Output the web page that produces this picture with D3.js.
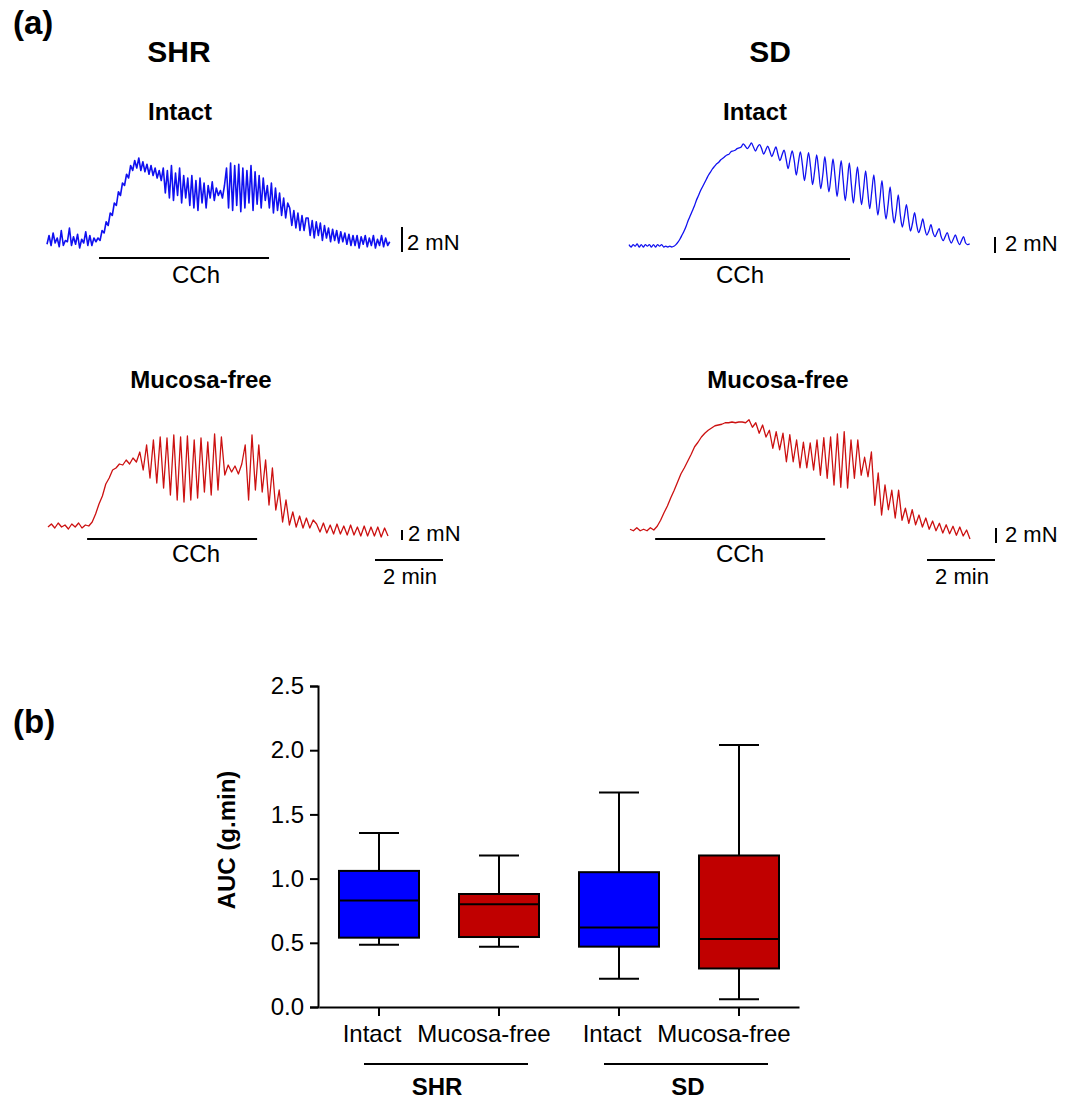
<!DOCTYPE html>
<html>
<head>
<meta charset="utf-8">
<script src="https://cdn.jsdelivr.net/npm/d3@7"></script>
<style>
  body { margin: 0; background: #fff; }
  svg text { font-family: "Liberation Sans", Arial, sans-serif; fill: #000; }
</style>
</head>
<body>
<svg id="fig" width="1070" height="1103"></svg>
<script>
// ---------- data ----------
// force traces (mN above starting baseline), sampled every traceSteps[i] minutes
const shrIntact = [
  0.3,1.0,0.2,1.2,0.4,0.8,0.1,1.4,0.2,0.6,0.5,1.6,0.2,0.9,0.3,1.1,0.0,0.7,0.4,1.3,0.2,1.0,0.2,0.8,0.5,
  0.8,0.6,1.4,1.2,2.1,1.8,2.8,2.6,3.6,3.4,4.5,4.2,5.2,5.0,5.9,5.6,6.6,6.2,
  7.0,6.4,7.2,6.2,6.9,6.1,6.7,5.9,6.6,5.8,6.4,5.6,6.2,5.4,
  6.4,4.4,6.2,4.0,6.6,3.8,6.0,4.2,6.4,3.6,5.8,4.0,5.6,
  3.4,5.8,3.2,5.4,3.0,5.6,3.6,5.2,3.2,5.0,4.0,5.3,3.8,4.8,4.2,4.6,4.0,5.0,
  6.4,3.2,6.8,3.0,6.6,3.4,6.7,2.9,6.4,3.2,6.2,3.6,6.6,3.0,6.1,3.5,5.8,3.2,5.6,3.8,
  5.0,3.2,5.2,2.8,4.8,3.0,4.4,2.6,4.0,2.4,3.6,
  3.2,1.8,3.0,1.6,2.8,1.4,2.6,1.4,2.4,
  2.4,1.0,2.2,0.8,2.1,1.0,2.0,0.6,1.8,0.8,1.6,0.5,1.5,0.6,1.4,0.4,1.3,0.5,1.2,
  0.3,1.1,0.2,1.0,0.2,1.0,0.0,0.9,0.3,1.0,0.1,0.8,0.2,1.0,0.0,0.7,0.2,1.0,0.1,0.8,0.2,0.5
];
const sdIntact = [
  0.3,0,0.3,0.1,0.4,0,0.3,0,0.3,0.1,0.3,0,0.3,0,0.3,0.1,0.3,0,0.1,0,0.1,0,0.1,
  0.3,0.6,1.0,1.5,2.0,2.6,3.3,3.9,4.5,5.1,5.8,6.4,7.0,7.5,8.0,8.5,9.0,9.4,9.8,10.1,10.4,10.6,10.9,11.1,11.3,11.5,11.6,11.9,12.0,12.1,12.3,12.4,12.5,
  12.9,12.6,12.3,12.6,13.0,12.5,12.0,12.5,12.8,12.3,11.6,12.1,12.6,12.0,11.3,11.9,12.5,11.6,10.8,11.5,
  12.1,11.0,9.8,11.0,12.0,10.8,9.0,10.5,11.9,10.3,8.3,10.0,11.8,10.0,7.8,9.5,11.5,9.5,7.3,9.0,11.3,9.0,6.9,8.8,11.0,8.8,6.3,8.5,10.8,8.3,5.8,8.0,10.5,7.8,5.5,
  7.8,10.0,7.5,5.3,7.3,9.5,7.0,4.8,6.9,9.0,6.3,4.0,6.0,8.3,5.5,3.5,5.3,7.5,4.8,3.0,4.5,6.5,4.0,2.5,3.8,
  5.3,3.5,2.0,3.0,4.3,2.8,1.8,2.5,3.5,2.3,1.5,2.0,2.8,1.8,1.3,1.8,2.3,1.3,0.8,1.3,1.8,1.0,0.5,1.0,1.5,0.8,0.3,0.8,1.3,0.5,0.3,0.4
];
const shrMucosa = [
  0.6,1.2,0.4,1.4,0.6,1.0,0.2,1.2,0.6,1.4,0.4,1.0,0.8,
  1.6,3.2,5.2,6.8,9.2,10.4,12.0,12.4,13.2,13.0,
  14.0,13.2,14.4,13.6,
  15.6,12.0,17.0,10.4,18.0,9.4,18.6,8.4,18.4,7.0,19.0,6.0,18.6,5.6,18.8,6.0,18.0,6.4,18.4,7.6,17.6,
  7.0,19.2,8.0,18.6,11.0,13.0,
  11.6,12.8,11.2,13.2,
  17.0,6.0,19.0,8.0,17.0,7.6,14.0,5.0,12.4,4.0,
  8.0,1.6,6.0,1.0,3.6,0.6,2.8,0.4,2.4,0.4,2.0,
  1.2,-0.4,1.4,-0.6,1.0,-0.8,1.2,-0.8,0.8,-1.0,1.0,-1.0,0.6,-1.2,0.8,-1.2,0.6,-1.2,0.6,-1.4,0.4,-1.2
];
const sdMucosa = [
  0.1,-0.1,0.3,-0.1,0.1,-0.1,0.3,0,
  0.5,1.3,2.3,3.2,4.3,5.3,6.4,7.5,8.3,9.2,10.1,11.1,11.7,12.4,12.9,13.3,13.6,13.9,14.0,14.1,14.3,14.3,14.4,14.3,14.4,14.4,14.3,
  14.7,13.7,14.3,12.9,14.0,12.4,13.3,10.9,13.1,10.7,12.9,9.1,12.7,9.1,12.0,8.3,11.7,8.3,11.6,8.0,
  12.0,7.3,12.3,6.9,12.4,6.0,12.8,5.7,13.1,5.6,12.0,6.9,12.0,7.3,9.7,7.1,10.4,3.3,7.6,2.0,
  6.0,2.7,5.3,1.6,5.3,1.3,2.9,0.9,2.7,0.7,2.0,0.4,1.6,0.1,1.2,-0.1,0.9,-0.4,0.7,-0.5,
  0.5,-0.7,0.4,-0.8,0,-1.2
];
const traceSteps = [0.06, 0.06, 0.1, 0.1];   // minutes per sample
const cchStart = [1.53, 1.5, 1.15, 0.74];    // minutes
const cchDuration = 5;                       // minutes

// AUC box plot (g.min)
const categories = ["SHR|Intact", "SHR|Mucosa-free", "SD|Intact", "SD|Mucosa-free"];
const boxMin    = [0.485, 0.47, 0.22, 0.06];
const boxQ1     = [0.54, 0.545, 0.47, 0.30];
const boxMedian = [0.83, 0.80, 0.62, 0.53];
const boxQ3     = [1.06, 0.88, 1.05, 1.18];
const boxMax    = [1.355, 1.18, 1.67, 2.04];
const yTicks = [0, 0.5, 1.0, 1.5, 2.0, 2.5];
const groups = ["SHR", "SD"];

// ---------- drawing ----------
const svg = d3.select("#fig");
const BLUE = "#0000ff", RED = "#c00000";

function label(x, y, txt, size, bold, anchor) {
  return svg.append("text")
    .attr("x", x).attr("y", y)
    .attr("font-size", size)
    .attr("font-weight", bold ? "bold" : "normal")
    .attr("text-anchor", anchor || "middle")
    .text(txt);
}

// panel (a) headings
label(13, 34, "(a)", 33, true, "start");
label(179, 62, "SHR", 30, true);
label(770, 62, "SD", 30, true);
label(180, 120, "Intact", 24, true);
label(755, 120, "Intact", 24, true);
label(201, 388, "Mucosa-free", 24, true);
label(778, 388, "Mucosa-free", 24, true);

const panels = [
  {data: shrIntact, x0: 47,  y0: 248, pxMN: 12.5, color: "#1010f0", width: 1.6, curve: d3.curveLinear,
   barX: 402, barBottom: 252, mnX: 407, mnY: 250, cchY: 258, cchTx: 196, cchTy: 283, minBar: null},
  {data: sdIntact,  x0: 629, y0: 247, pxMN: 8,    color: "#1010f0", width: 1.3, curve: d3.curveCatmullRom,
   barX: 995, barBottom: 253, mnX: 1005, mnY: 251, cchY: 259, cchTx: 740, cchTy: 283, minBar: null},
  {data: shrMucosa, x0: 48,  y0: 530, pxMN: 5,    color: "#cc1111", width: 1.3, curve: d3.curveLinear,
   barX: 402, barBottom: 540, mnX: 408, mnY: 541, cchY: 539, cchTx: 196, cchTy: 562, minBar: [375, 560]},
  {data: sdMucosa,  x0: 630, y0: 530, pxMN: 7.5,  color: "#cc1111", width: 1.3, curve: d3.curveLinear,
   barX: 996, barBottom: 543, mnX: 1005, mnY: 542, cchY: 539, cchTx: 740, cchTy: 562, minBar: [927, 560]}
];

panels.forEach(function(p, k) {
  const step = traceSteps[k];
  const x = d3.scaleLinear().domain([0, 10]).range([p.x0, p.x0 + 340]);
  const y = d3.scaleLinear().domain([0, 1]).range([p.y0, p.y0 - p.pxMN]);
  const line = d3.line()
    .x(function(d, i) { return x(i * step); })
    .y(function(d) { return y(d); })
    .curve(p.curve);
  svg.append("path")
    .datum(p.data)
    .attr("d", line)
    .attr("fill", "none")
    .attr("stroke", p.color)
    .attr("stroke-width", p.width)
    .attr("stroke-linejoin", "round");

  // CCh application bar
  svg.append("line")
    .attr("x1", x(cchStart[k])).attr("x2", x(cchStart[k] + cchDuration))
    .attr("y1", p.cchY).attr("y2", p.cchY)
    .attr("stroke", "#000").attr("stroke-width", 2);
  label(p.cchTx, p.cchTy, "CCh", 24, false);

  // 2 mN scale bar
  const h = y(0) - y(2);
  svg.append("line")
    .attr("x1", p.barX).attr("x2", p.barX)
    .attr("y1", p.barBottom).attr("y2", p.barBottom - h)
    .attr("stroke", "#000").attr("stroke-width", 2);
  label(p.mnX, p.mnY, "2 mN", 22, false, "start");

  // 2 min scale bar
  if (p.minBar) {
    const w = x(2) - x(0);
    svg.append("line")
      .attr("x1", p.minBar[0]).attr("x2", p.minBar[0] + w)
      .attr("y1", p.minBar[1]).attr("y2", p.minBar[1])
      .attr("stroke", "#000").attr("stroke-width", 2);
    label(p.minBar[0] + w / 2 + 1, 584, "2 min", 22, false);
  }
});

// panel (b)
label(13, 733, "(b)", 33, true, "start");

const yB = d3.scaleLinear().domain([0, 2.5]).range([1007, 686]);
const xB = d3.scaleBand().domain(categories).range([319, 799]).padding(0);
const bw = 80, capW = 40;

const yAxis = svg.append("g")
  .attr("transform", "translate(318,0)")
  .call(d3.axisLeft(yB).tickValues(yTicks).tickFormat(d3.format(".1f")).tickSize(8).tickPadding(6));
yAxis.selectAll("path, line").attr("stroke", "#000").attr("stroke-width", 2);
yAxis.selectAll("text").attr("font-size", 24).attr("fill", "#000")
  .style("font-family", "'Liberation Sans', Arial, sans-serif");

const labelShift = {"Intact": -7, "Mucosa-free": -15};
const xAxis = svg.append("g")
  .attr("transform", "translate(0,1007)")
  .call(d3.axisBottom(xB).tickSize(9).tickSizeOuter(0).tickPadding(9)
    .tickFormat(function(d) { return d.split("|")[1]; }));
xAxis.selectAll("path, line").attr("stroke", "#000").attr("stroke-width", 2);
xAxis.selectAll("text").attr("font-size", 24).attr("fill", "#000")
  .style("font-family", "'Liberation Sans', Arial, sans-serif")
  .attr("dx", function(d) { return labelShift[d.split("|")[1]]; });

// y axis title
svg.append("text")
  .attr("transform", "translate(235,840) rotate(-90)")
  .attr("text-anchor", "middle")
  .attr("font-size", 24).attr("font-weight", "bold")
  .text("AUC (g.min)");

// boxes
categories.forEach(function(c, i) {
  const cx = xB(c) + xB.bandwidth() / 2;
  const fill = c.split("|")[1] === "Intact" ? BLUE : RED;
  const g = svg.append("g").attr("stroke", "#000").attr("stroke-width", 2);
  g.append("line").attr("x1", cx).attr("x2", cx).attr("y1", yB(boxMax[i])).attr("y2", yB(boxQ3[i]));
  g.append("line").attr("x1", cx).attr("x2", cx).attr("y1", yB(boxQ1[i])).attr("y2", yB(boxMin[i]));
  g.append("line").attr("x1", cx - capW / 2).attr("x2", cx + capW / 2).attr("y1", yB(boxMax[i])).attr("y2", yB(boxMax[i]));
  g.append("line").attr("x1", cx - capW / 2).attr("x2", cx + capW / 2).attr("y1", yB(boxMin[i])).attr("y2", yB(boxMin[i]));
  g.append("rect")
    .attr("x", cx - bw / 2).attr("width", bw)
    .attr("y", yB(boxQ3[i])).attr("height", yB(boxQ1[i]) - yB(boxQ3[i]))
    .attr("fill", fill);
  g.append("line").attr("x1", cx - bw / 2).attr("x2", cx + bw / 2)
    .attr("y1", yB(boxMedian[i])).attr("y2", yB(boxMedian[i]));
});

// group brackets under the axis
groups.forEach(function(gname) {
  const a = xB(gname + "|Intact") + xB.bandwidth() / 2;
  const b = xB(gname + "|Mucosa-free") + xB.bandwidth() / 2;
  svg.append("line")
    .attr("x1", a - 15).attr("x2", b + 29)
    .attr("y1", 1064).attr("y2", 1064)
    .attr("stroke", "#000").attr("stroke-width", 2);
  const shift = gname === "SHR" ? -9 : 2;
  label((a - 15 + b + 29) / 2 + shift, 1095, gname, 24, true);
});
</script>
</body>
</html>
